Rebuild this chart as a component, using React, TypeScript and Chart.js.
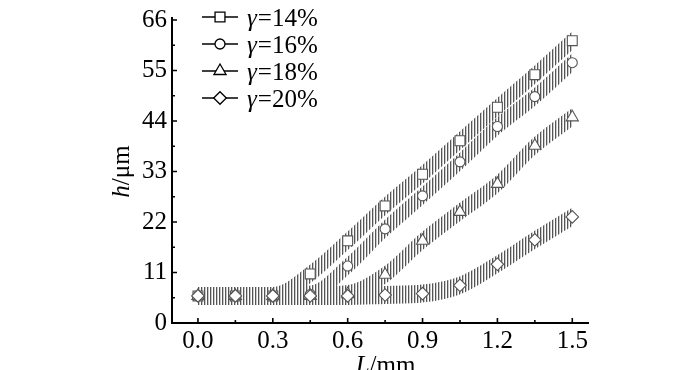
import React, { useEffect, useRef } from 'react';
import { Chart, registerables } from 'chart.js';

Chart.register(...registerables);

// ---- data ----
const xValues = [0, 0.15, 0.3, 0.45, 0.6, 0.75, 0.9, 1.05, 1.2, 1.35, 1.5];
const seriesNames = ['14%', '16%', '18%', '20%'];
const h14 = [5.9, 5.9, 5.9, 10.7, 17.9, 25.5, 32.4, 39.7, 47.0, 54.1, 61.5];
const h16 = [5.9, 5.9, 5.9, 6.2, 12.4, 20.5, 27.7, 35.1, 42.8, 49.3, 56.7];
const h18 = [5.9, 5.9, 5.9, 5.9, 6.3, 10.5, 17.9, 24.2, 30.3, 38.6, 44.8];
const h20 = [5.9, 5.9, 5.9, 5.9, 5.9, 6.1, 6.4, 8.2, 12.8, 18.1, 23.1];
const xTicks = [0, 0.3, 0.6, 0.9, 1.2, 1.5];
const xMinorTicks = [0.15, 0.45, 0.75, 1.05, 1.35];
const yTicks = [0, 11, 22, 33, 44, 55, 66];
const yMinorTicks = [5.5, 16.5, 27.5, 38.5, 49.5, 60.5];

const seriesValues = [h14, h16, h18, h20];
const markerStyles = ['rect', 'circle', 'triangle', 'rectRot'];
const markerRadii = [7, 5, 7, 6.3];

const SERIF = '"Liberation Serif", "Times New Roman", serif';

function drawMarker(ctx: CanvasRenderingContext2D, style: string, x: number, y: number, r: number) {
  ctx.beginPath();
  if (style === 'rect') {
    const s = r * Math.SQRT1_2;
    ctx.rect(x - s, y - s, 2 * s, 2 * s);
  } else if (style === 'circle') {
    ctx.arc(x, y, r, 0, Math.PI * 2);
  } else if (style === 'triangle') {
    ctx.moveTo(x, y - r);
    ctx.lineTo(x + 0.866 * r, y + 0.5 * r);
    ctx.lineTo(x - 0.866 * r, y + 0.5 * r);
    ctx.closePath();
  } else {
    ctx.moveTo(x - r, y);
    ctx.lineTo(x, y - r);
    ctx.lineTo(x + r, y);
    ctx.lineTo(x, y + r);
    ctx.closePath();
  }
  ctx.fill();
  ctx.stroke();
}

// draws each "band" dataset as a hatched strip of constant vertical height
const bandPlugin = {
  id: 'bandHatch',
  beforeDatasetDraw(chart: any, args: any) {
    const ds = chart.data.datasets[args.index];
    if (!ds || !String(ds.label).startsWith('band')) return;
    const ctx: CanvasRenderingContext2D = chart.ctx;
    const el = args.meta.dataset;
    ctx.save();
    ctx.beginPath();
    ctx.rect(chart.chartArea.left, chart.chartArea.top - 10, chart.chartArea.right - chart.chartArea.left, chart.chartArea.bottom - chart.chartArea.top + 10);
    ctx.clip();
    for (let dy = -8; dy <= 8; dy += 1) {
      ctx.save();
      ctx.translate(0, dy);
      el.draw(ctx, chart.chartArea);
      ctx.restore();
    }
    ctx.restore();
    return false;
  },
};

const decorPlugin = {
  id: 'decor',
  afterDraw(chart: any) {
    const ctx: CanvasRenderingContext2D = chart.ctx;
    const xs = chart.scales.x;
    const ys = chart.scales.y;
    const area = chart.chartArea;
    ctx.save();
    // axes
    ctx.strokeStyle = '#000';
    ctx.lineWidth = 2;
    ctx.beginPath();
    ctx.moveTo(area.left, area.top - 3);
    ctx.lineTo(area.left, area.bottom);
    ctx.lineTo(area.right, area.bottom);
    ctx.stroke();
    // inward ticks
    ctx.lineWidth = 1.6;
    ctx.beginPath();
    xTicks.forEach((v) => {
      const px = xs.getPixelForValue(v);
      ctx.moveTo(px, area.bottom);
      ctx.lineTo(px, area.bottom - 5);
    });
    xMinorTicks.forEach((v) => {
      const px = xs.getPixelForValue(v);
      ctx.moveTo(px, area.bottom);
      ctx.lineTo(px, area.bottom - 3);
    });
    yTicks.forEach((v) => {
      const py = ys.getPixelForValue(v);
      ctx.moveTo(area.left, py);
      ctx.lineTo(area.left + 5, py);
    });
    yMinorTicks.forEach((v) => {
      const py = ys.getPixelForValue(v);
      ctx.moveTo(area.left, py);
      ctx.lineTo(area.left + 3, py);
    });
    ctx.stroke();

    // axis titles
    ctx.fillStyle = '#000';
    ctx.textBaseline = 'alphabetic';
    const italic = `italic 25px ${SERIF}`;
    const normal = `25px ${SERIF}`;
    // x title
    ctx.font = italic;
    const wL = ctx.measureText('L').width;
    ctx.font = normal;
    const wMm = ctx.measureText('/mm').width;
    const sx = (area.left + area.right) / 2 + 5 - (wL + wMm) / 2;
    ctx.font = italic;
    ctx.fillText('L', sx, 373);
    ctx.font = normal;
    ctx.fillText('/mm', sx + wL, 373);
    // y title
    ctx.save();
    ctx.translate(129, (area.top + area.bottom) / 2);
    ctx.rotate(-Math.PI / 2);
    ctx.font = italic;
    const wH = ctx.measureText('h').width;
    ctx.font = normal;
    const wUm = ctx.measureText('/\u03bcm').width;
    const sy = -(wH + wUm) / 2;
    ctx.font = italic;
    ctx.fillText('h', sy, 0);
    ctx.font = normal;
    ctx.fillText('/\u03bcm', sy + wH, 0);
    ctx.restore();

    // legend
    const rows = [17, 44, 71, 98];
    seriesNames.forEach((name, i) => {
      const y = rows[i];
      ctx.strokeStyle = '#000';
      ctx.lineWidth = 1.5;
      ctx.beginPath();
      ctx.moveTo(202, y);
      ctx.lineTo(238, y);
      ctx.stroke();
      ctx.fillStyle = '#fff';
      ctx.lineWidth = 1.3;
      drawMarker(ctx, markerStyles[i], 220, y, markerRadii[i]);
      ctx.fillStyle = '#000';
      ctx.font = `italic 25px ${SERIF}`;
      const gx = 247;
      ctx.fillText('\u03b3', gx, y + 9);
      const wg = ctx.measureText('\u03b3').width;
      ctx.font = `25px ${SERIF}`;
      ctx.fillText('=' + name, gx + wg + 1, y + 9);
    });
    ctx.restore();
  },
};

export default function App() {
  const canvasRef = useRef<HTMLCanvasElement | null>(null);

  useEffect(() => {
    const canvas = canvasRef.current;
    if (!canvas) return;
    const ctx = canvas.getContext('2d')!;
    const tile = document.createElement('canvas');
    tile.width = 3;
    tile.height = 3;
    const tctx = tile.getContext('2d')!;
    tctx.fillStyle = 'rgb(85,85,85)';
    tctx.fillRect(0, 0, 1, 3);
    tctx.fillStyle = 'rgb(200,200,200)';
    tctx.fillRect(1, 0, 1, 3);
    const hatch = ctx.createPattern(tile, 'repeat');

    const bandSets = seriesValues.map((vals, i) => ({
      label: 'band ' + seriesNames[i],
      data: xValues.map((x, j) => ({ x, y: vals[j] })),
      borderColor: hatch as any,
      borderWidth: 2,
      borderCapStyle: 'butt' as const,
      borderJoinStyle: 'round' as const,
      cubicInterpolationMode: 'monotone' as const,
      pointRadius: 0,
      fill: false,
      order: 10 + i,
    }));
    const markerSets = seriesValues.map((vals, i) => ({
      label: '\u03b3=' + seriesNames[i],
      data: xValues.map((x, j) => ({ x, y: vals[j] })),
      showLine: false,
      pointStyle: markerStyles[i] as any,
      pointRadius: markerRadii[i],
      pointBackgroundColor: '#fff',
      pointBorderColor: '#555',
      pointBorderWidth: 1.1,
      order: 4 - i,
    }));

    const chart = new Chart(canvas, {
      type: 'line',
      data: { datasets: [...bandSets, ...markerSets] as any },
      options: {
        animation: false,
        responsive: false,
        devicePixelRatio: 1,
        layout: { padding: { left: 0, right: 111, top: 10, bottom: 0 } },
        plugins: { legend: { display: false }, tooltip: { enabled: false } },
        scales: {
          x: {
            type: 'linear',
            min: -0.104,
            max: 1.567,
            grid: { display: false, drawTicks: false },
            border: { display: false },
            afterBuildTicks: (s: any) => {
              s.ticks = xTicks.map((v) => ({ value: v }));
            },
            afterFit: (s: any) => {
              s.height = 47;
            },
            ticks: {
              padding: 3,
              color: '#000',
              font: { family: SERIF, size: 25 },
              callback: (v: any) => Number(v).toFixed(1),
              maxRotation: 0,
              autoSkip: false,
            },
          },
          y: {
            type: 'linear',
            min: 0,
            max: 66,
            grid: { display: false, drawTicks: false },
            border: { display: false },
            afterBuildTicks: (s: any) => {
              s.ticks = yTicks.map((v) => ({ value: v }));
            },
            afterFit: (s: any) => {
              s.width = 172;
            },
            ticks: {
              padding: 5,
              color: '#000',
              font: { family: SERIF, size: 25 },
              autoSkip: false,
            },
          },
        },
      },
      plugins: [bandPlugin, decorPlugin],
    });
    return () => chart.destroy();
  }, []);

  return (
    <div style={{ position: 'absolute', left: 0, top: 0, width: 700, height: 370, background: '#fff' }}>
      <canvas ref={canvasRef} width={700} height={370} style={{ display: 'block' }} />
    </div>
  );
}
